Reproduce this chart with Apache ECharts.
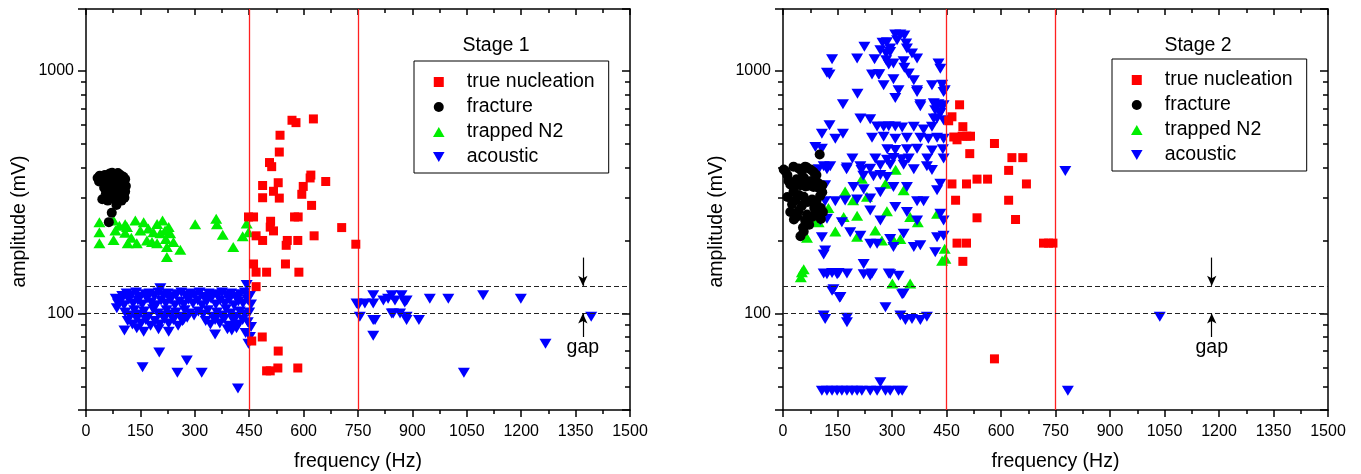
<!DOCTYPE html>
<html><head><meta charset="utf-8">
<script src="https://cdn.jsdelivr.net/npm/echarts@6/dist/echarts.min.js"></script>
<style>html,body{margin:0;padding:0;background:#fff}#c{width:1361px;height:474px}</style>
</head><body><div id="c"></div>
<script>
const FONT = '"Liberation Sans", Arial, Helvetica, sans-serif';

// ---- axes / tick labels ----
const freqMin = 0, freqMax = 1500, freqStep = 150;
const ampMin = 40, ampMax = 1800;
const ampLabels = [100, 1000];
const seriesNames = ['true nucleation', 'fracture', 'trapped N2', 'acoustic'];
const stageTitles = ['Stage 1', 'Stage 2'];

// ---- guides ----
const boundaryFreqs = [450, 750];
const gapBounds = [100, 130];
const gapArrowFreqs = [1370, 1180];
const gapArrowStarts = [170, 80];
const gapTextAmp = 72;

// ---- Stage 1 data [frequency Hz, amplitude mV] ----
const s1Nucleation = [
  [448,250],[462,250],[469,209],[487,200],[462,160],[469,148],[469,129],[498,148],
  [487,337],[487,300],[506,419],[512,403],[533,463],[535,543],[530,346],[517,319],
  [533,299],[509,240],[508,227],[517,219],[555,200],[552,191],[550,160],[568,626],
  [579,612],[627,634],[599,334],[595,310],[620,372],[618,362],[622,279],[575,250],
  [585,250],[584,200],[587,148],[629,209],[661,350],[705,226],[744,193],
  [457,77],[486,80],[530,70],[508,58],[498,58],[529,59.6],[584,59.6]
];
const s1Fracture = [
  [32,362],[38,370],[45,365],[52,372],[60,368],[66,378],[72,380],[80,376],[88,379],[95,372],
  [103,366],[108,358],[36,350],[48,348],[58,352],[70,356],[82,350],[94,355],[104,345],[110,335],
  [50,330],[62,338],[76,334],[88,330],[100,325],[108,318],[55,312],[68,318],[80,310],[92,314],
  [104,306],[45,296],[60,292],[74,298],[86,290],[98,292],[106,300],[84,280],[71,260],[63,238]
];
const s1Trapped = [
  [37,238],[37,216],[37,195],[76,242],[81,220],[76,201],[108,233],[108,215],[115,195],[136,242],
  [140,195],[159,238],[172,224],[182,197],[196,234],[211,242],[218,220],[220,203],[223,171],[241,197],
  [260,183],[301,233],[359,246],[361,233],[377,211],[406,188],[432,208],[443,235],[448,216],
  [150,220],[186,216],[113,227],[205,214],[228,227],[232,214],[168,200],[196,195],[223,188],[92,230],[125,205]
];
const s1Acoustic = [
  [82,115],[88,110],[85,105],
  [100,118],[112,121],[125,119],[138,122],[150,117],[163,120],[175,121],[188,118],[200,122],[205,127],
  [213,119],[225,121],[238,117],[250,120],[263,122],[275,118],[288,121],[300,119],[313,122],[325,117],
  [338,121],[350,120],[363,118],[375,122],[388,119],[400,121],[413,117],[425,120],[438,122],[443,131],[452,118],
  [95,112],[105,108],[118,114],[130,110],[143,113],[155,109],[168,115],[180,111],[193,108],[207,113],
  [220,110],[232,114],[245,108],[258,112],[270,109],[283,114],[295,110],[308,113],[320,108],[333,112],
  [345,115],[358,109],[370,113],[383,110],[395,114],[408,108],[420,112],[433,110],[445,114],[455,109],
  [108,101],[120,98],[133,103],[146,99],[160,102],[172,97],[185,104],[198,100],[210,98],[222,103],
  [235,99],[248,101],[260,97],[272,103],[286,100],[298,98],[310,102],[323,99],[336,103],[349,97],
  [361,101],[374,98],[386,104],[399,100],[411,97],[424,102],[437,99],[450,101],
  [115,93],[128,90],[140,95],[152,91],[165,94],[178,89],[190,93],[203,90],[216,95],[228,91],
  [241,94],[254,89],[266,93],[279,96],[330,93],[343,90],[356,94],[369,91],[381,95],[394,89],
  [407,93],[419,90],[432,94],[446,92],[455,88],
  [106,85],[159,84],[228,84],[356,82],[402,85],[448,75],[452,80],[440,83],[390,86],[415,87],[200,86],[140,87],[269,94],
  [202,69],[156,60],[278,64],[252,57],[319,57],[419,49],
  [746,110],[755,97],[751,108],[769,110],[792,119],[792,110],[792,94],[792,81],[797,94],[820,113],
  [833,115],[843,119],[852,113],[843,100],[847,100],[866,100],[870,119],[884,113],[879,111],[884,94],
  [884,97],[918,94],[948,115],[999,115],[1095,119],[1199,115],[1393,97],[1267,75],[1042,57]
];

// ---- Stage 2 data [frequency Hz, amplitude mV] ----
const s2Nucleation = [
  [486,725],[465,647],[456,623],[495,589],[470,534],[479,520],[493,538],[506,538],[516,538],[514,456],
  [582,502],[630,439],[660,439],[621,389],[534,358],[563,358],[465,342],[505,342],[670,342],[475,293],
  [621,293],[534,248],[640,244],[479,195],[505,195],[495,164],[717,195],[731,195],[743,195],[582,65]
];
const s2Fracture = [
  [6,387],[2,392],[29,403],[43,396],[61,403],[66,400],[84,383],[101,452],
  [20,340],[34,336],[48,338],[62,334],[70,336],[84,332],[98,330],
  [29,318],[57,303],[80,295],[92,288],[44,308],
  [20,262],[39,251],[61,242],[80,250],[98,258],[43,265],[66,256],[89,256],
  [48,208],[57,218],
  [12,372],[52,385],[76,392],[92,372],[15,352],[38,358],[58,362],[78,352],[96,346],[108,338],
  [12,302],[35,294],[68,288],[102,305],[108,316],[25,282],[52,278],[86,272],[104,272],
  [30,244],[72,232],[104,245],[110,262],[55,226]
];
const s2Trapped = [
  [52,148],[57,152],[49,141],[66,205],[92,242],[125,272],[144,218],[171,318],[193,293],[204,253],
  [204,207],[167,250],[217,359],[231,303],[254,220],[272,200],[286,264],[282,343],[310,391],[304,201],
  [323,203],[332,322],[301,133],[350,133],[350,250],[371,238],[424,258],[445,185],[438,165],[447,168],[98,238]
];
const s2Acoustic = [
  [309,1413],[323,1413],[334,1400],[286,1313],[314,1339],[339,1298],[341,1238],[224,1257],[268,1217],[284,1179],
  [295,1197],[355,1179],[369,1125],[135,1117],[204,1125],[252,1117],[284,1107],[291,1062],[332,1097],[334,1031],
  [428,1072],[433,1022],[128,967],[245,967],[263,967],[346,975],[304,923],[360,915],[274,1306],[295,1238],
  [304,1072],[121,982],[265,970],
  [277,872],[410,872],[438,877],[318,832],[442,819],[369,819],[205,806],[445,832],[369,832],
  [309,774],[165,728],[378,728],[415,735],[428,728],[442,722],[419,688],[433,673],[424,637],[442,626],
  [213,637],[240,632],[438,711],[419,721],[433,669],[415,637],[378,715],
  [128,597],[107,551],[165,551],[144,525],[259,590],[277,588],[291,592],[309,590],[328,585],[360,588],
  [387,574],[410,588],[245,530],[277,535],[309,525],[341,530],[378,530],[400,525],[424,530],[442,525],
  [287,475],[309,472],[341,475],[369,478],[410,470],[440,475],[89,486],[107,478],
  [191,435],[254,435],[286,430],[304,438],[327,432],[346,435],[397,435],[442,435],
  [98,393],[121,393],[175,393],[216,390],[360,393],[410,390],[112,405],[130,405],[176,400],[213,405],
  [240,395],[268,408],[295,410],[332,410],[396,405],[221,370],[249,368],[268,372],[286,365],
  [116,338],[194,332],[222,325],[268,316],[304,332],[341,332],[424,322],[433,343],
  [116,290],[144,290],[171,292],[204,295],[240,298],[369,290],[387,290],
  [240,266],[268,242],[309,275],[341,262],[369,242],[433,258],[442,242],[103,242],[121,246],[162,238],
  [185,216],[213,209],[240,194],[259,194],[295,203],[304,188],[332,213],[360,188],[378,191],[424,206],
  [442,209],[419,179],[107,206],[116,182],[112,175],
  [112,146],[121,145],[135,147],[149,145],[153,147],[176,146],[222,145],[240,143],[245,146],[291,146],
  [295,145],[318,143],[222,160],
  [139,126],[158,117],[332,121],[282,106],[135,124],[156,116],
  [112,98],[116,95],[176,96],[176,92],[323,98],[337,94],[355,95],[378,94],[396,97],[328,120],
  [107,48],[121,48],[135,48],[149,48],[162,48],[176,48],[190,48],[204,48],[217,48],[240,48],
  [259,48],[268,52],[282,48],[295,48],[318,48],[328,48],
  [777,387],[784,48],[1037,97]
];

const TRI_DOWN = 'path://M0,0L10,0L5,8.66Z';
const TRI_UP = 'path://M5,0L10,8.66L0,8.66Z';
const SQUARE = 'path://M0,0L10,0L10,10L0,10Z';
const styles = {
  'true nucleation': { color: '#ff0000', symbol: SQUARE, size: 9, z: 5 },
  'fracture': { color: '#000000', symbol: 'circle', size: 10, z: 4 },
  'trapped N2': { color: '#00ee00', symbol: TRI_UP, size: [12, 10], z: 2 },
  'acoustic': { color: '#0000ff', symbol: TRI_DOWN, size: [12, 10], z: 3 }
};

const grids = [
  { left: 86, top: 9, width: 544, height: 401, containLabel: false, outerBoundsMode: 'none' },
  { left: 783, top: 9, width: 545, height: 401, containLabel: false, outerBoundsMode: 'none' }
];

const lineStyleAxis = { color: '#000', width: 1.5 };
function isMajorAmp(v) { return ampLabels.some(a => Math.abs(v - a) / a < 1e-6); }

function xAxesFor(g) {
  const base = { type: 'value', gridIndex: g, min: freqMin, max: freqMax, interval: freqStep, splitLine: { show: false } };
  return [
    Object.assign({}, base, {
      position: 'bottom',
      axisLine: { onZero: false, lineStyle: lineStyleAxis },
      axisTick: { length: 7, lineStyle: lineStyleAxis },
      minorTick: { show: true, splitNumber: 2, length: 4, lineStyle: lineStyleAxis },
      axisLabel: { fontSize: 16, color: '#000', fontFamily: FONT, margin: 14, formatter: v => String(v) },
      name: 'frequency (Hz)', nameLocation: 'middle', nameGap: 42,
      nameTextStyle: { fontSize: 19.5, color: '#000', fontFamily: FONT }
    }),
    Object.assign({}, base, {
      position: 'top',
      axisLine: { onZero: false, lineStyle: lineStyleAxis },
      axisTick: { inside: true, length: 6, lineStyle: lineStyleAxis },
      minorTick: { show: true, splitNumber: 2, length: 4, lineStyle: lineStyleAxis },
      axisLabel: { show: false }
    })
  ];
}
function yAxesFor(g) {
  const base = { type: 'log', logBase: 10, gridIndex: g, min: ampMin, max: ampMax, splitLine: { show: false } };
  return [
    Object.assign({}, base, {
      position: 'left',
      axisLine: { onZero: false, lineStyle: lineStyleAxis },
      axisTick: { length: 8, lineStyle: lineStyleAxis },
      minorTick: { show: true, splitNumber: 9, length: 5, lineStyle: lineStyleAxis },
      axisLabel: { fontSize: 16, color: '#000', fontFamily: FONT, margin: 12,
        formatter: v => isMajorAmp(v) ? String(Math.round(v)) : '' },
      name: 'amplitude (mV)', nameLocation: 'middle', nameGap: 56,
      nameTextStyle: { fontSize: 19.5, color: '#000', fontFamily: FONT, padding: [0, 24, 0, 0] }
    }),
    Object.assign({}, base, {
      position: 'right',
      axisLine: { onZero: false, lineStyle: lineStyleAxis },
      axisTick: { inside: true, length: 8, lineStyle: lineStyleAxis },
      minorTick: { show: true, splitNumber: 9, length: 5, lineStyle: lineStyleAxis },
      axisLabel: { show: false }
    })
  ];
}

function pointSeries(name, data, g) {
  const s = styles[name];
  return {
    type: 'scatter', name, data, xAxisIndex: g * 2, yAxisIndex: g * 2,
    symbol: s.symbol, symbolSize: s.size, z: s.z, silent: true,
    itemStyle: { color: s.color, opacity: 1 },
    emphasis: { disabled: true }
  };
}
function guideSeries(g) {
  const ax = gapArrowFreqs[g];
  return [
    {
      type: 'scatter', name: 'boundaries' + g, data: [], xAxisIndex: g * 2, yAxisIndex: g * 2, z: 10, silent: true,
      markLine: {
        silent: true, symbol: ['none', 'none'], label: { show: false }, animation: false,
        lineStyle: { color: '#ff2020', width: 1.3, type: 'solid' },
        emphasis: { disabled: true },
        data: boundaryFreqs.map(f => ({ xAxis: f }))
      }
    },
    {
      type: 'scatter', name: 'gaplines' + g, data: [], xAxisIndex: g * 2, yAxisIndex: g * 2, z: 10, silent: true,
      markLine: {
        silent: true, symbol: ['none', 'none'], label: { show: false }, animation: false,
        lineStyle: { color: '#222', width: 1.2, type: [5, 3] },
        emphasis: { disabled: true },
        data: gapBounds.map(a => ({ yAxis: a }))
      }
    },
    {
      type: 'scatter', name: 'arrows' + g, data: [], xAxisIndex: g * 2, yAxisIndex: g * 2, z: 11, silent: true,
      markLine: {
        silent: true, symbol: ['none', 'arrow'], symbolSize: 9, label: { show: false }, animation: false,
        lineStyle: { color: '#000', width: 1.2, type: 'solid' },
        emphasis: { disabled: true },
        data: [
          [{ coord: [ax, gapArrowStarts[0]], symbol: 'none' }, { coord: [ax, gapBounds[1]], symbol: 'arrow', symbolSize: [7, 10] }],
          [{ coord: [ax, gapArrowStarts[1]], symbol: 'none' }, { coord: [ax, gapBounds[0]], symbol: 'arrow', symbolSize: [7, 10] }]
        ]
      },
      markPoint: {
        silent: true, symbol: 'circle', symbolSize: 1, animation: false,
        itemStyle: { color: 'rgba(0,0,0,0)' },
        label: { show: true, position: 'inside', formatter: 'gap', fontSize: 19.5, color: '#000', fontFamily: FONT },
        data: [{ coord: [ax, gapTextAmp] }]
      }
    }
  ];
}

const stage1 = [s1Nucleation, s1Fracture, s1Trapped, s1Acoustic];
const stage2 = [s2Nucleation, s2Fracture, s2Trapped, s2Acoustic];
const series = [];
[stage1, stage2].forEach((stage, g) => {
  seriesNames.forEach((n, i) => series.push(pointSeries(n, stage[i], g)));
  guideSeries(g).forEach(s => series.push(s));
});

function legendFor(left, top) {
  return {
    left, top, orient: 'vertical', data: seriesNames, selectedMode: false,
    itemWidth: 46, itemHeight: 10, itemGap: 5, padding: [11, 14, 6, 19],
    borderColor: '#000', borderWidth: 1, backgroundColor: '#fff',
    textStyle: { fontSize: 19.5, color: '#000', fontFamily: FONT }
  };
}

const chart = echarts.init(document.getElementById('c'), null, { renderer: 'canvas' });
chart.setOption({
  animation: false,
  backgroundColor: '#fff',
  grid: grids,
  xAxis: xAxesFor(0).concat(xAxesFor(1)),
  yAxis: yAxesFor(0).concat(yAxesFor(1)),
  legend: [legendFor(414, 61), legendFor(1112, 59)],
  graphic: [
    { type: 'text', x: 496, y: 46, silent: true,
      style: { text: stageTitles[0], font: '19.5px ' + FONT, fill: '#000', align: 'center', verticalAlign: 'middle', textAlign: 'center', textVerticalAlign: 'middle' } },
    { type: 'text', x: 1198, y: 46, silent: true,
      style: { text: stageTitles[1], font: '19.5px ' + FONT, fill: '#000', align: 'center', verticalAlign: 'middle', textAlign: 'center', textVerticalAlign: 'middle' } }
  ],
  series
});
</script>
</body></html>
